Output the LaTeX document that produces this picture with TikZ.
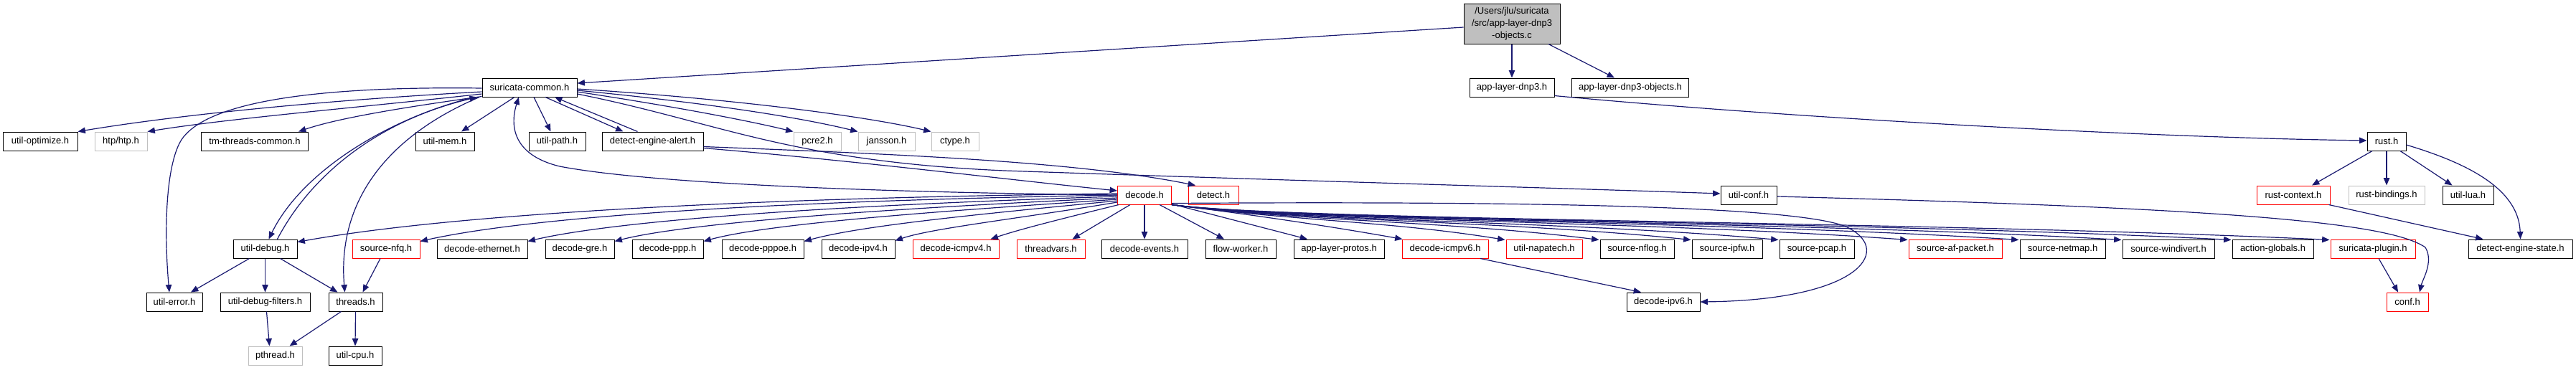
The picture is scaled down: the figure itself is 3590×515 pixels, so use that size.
\documentclass[tikz,border=0pt]{standalone}
\usepackage{fontspec}
\setmainfont{Liberation Sans}
\usetikzlibrary{arrows.meta,shadows}
\definecolor{edgec}{HTML}{191970}
\definecolor{lgray}{HTML}{BFBFBF}
\begin{document}
\begin{tikzpicture}[x=0.5pt,y=-0.5pt,
  base/.style={rectangle, inner sep=0pt, minimum height=13pt, font=\fontsize{6.5}{7.5}\selectfont, line width=0.5pt, fill=white},
  nb/.style={base, draw=black, drop shadow={shadow xshift=0.35pt, shadow yshift=-0.7pt, fill=black!65, opacity=1}},
  nr/.style={base, draw=red, drop shadow={shadow xshift=0.35pt, shadow yshift=-0.7pt, fill=red!55, opacity=1}},
  ng/.style={base, draw=lgray},
  e/.style={draw=edgec, line width=0.6pt, -{Triangle[length=5.2pt,width=4.2pt]}}]
\useasboundingbox (0,0) rectangle (3590,515);
% rank 0
\node[nb, fill=lgray, minimum width=67pt, minimum height=28pt, align=center, font=\fontsize{6.5}{8.5}\selectfont] (top) at (2107,33) {/Users/jlu/suricata\\/src/app-layer-dnp3\\-objects.c};
% rank 1
\node[nb, minimum width=66pt] (sc) at (738,122) {suricata-common.h};
\node[nb, minimum width=59pt] (dnp3) at (2107,122) {app-layer-dnp3.h};
\node[nb, minimum width=81.5pt] (dnp3o) at (2272,122) {app-layer-dnp3-objects.h};
% rank 2
\node[nb, minimum width=52pt] (uopt) at (56,197) {util-optimize.h};
\node[ng, minimum width=36.5pt] (htp) at (168.5,197) {htp/htp.h};
\node[nb, minimum width=74.5pt] (tmtc) at (355,197) {tm-threads-common.h};
\node[nb, minimum width=41pt] (umem) at (620,197) {util-mem.h};
\node[nb, minimum width=39.5pt] (upath) at (776.5,197) {util-path.h};
\node[nb, minimum width=70.5pt] (dea) at (909.5,197) {detect-engine-alert.h};
\node[ng, minimum width=33pt] (pcre) at (1139,197) {pcre2.h};
\node[ng, minimum width=39.5pt] (jans) at (1235.5,197) {jansson.h};
\node[ng, minimum width=33pt] (ctype) at (1331,197) {ctype.h};
\node[nb, minimum width=27pt] (rust) at (3326,197) {rust.h};
% rank 3
\node[nr, minimum width=37.5pt] (decode) at (1595,272) {decode.h};
\node[nr, minimum width=35pt] (detect) at (1691,272) {detect.h};
\node[nb, minimum width=39pt] (uconf) at (2437,272) {util-conf.h};
\node[nr, minimum width=51pt] (rctx) at (3196,272) {rust-context.h};
\node[ng, minimum width=53pt] (rbind) at (3326,272) {rust-bindings.h};
\node[nb, minimum width=35.5pt] (ulua) at (3439.5,272) {util-lua.h};
% rank 4
\node[nb, minimum width=44.5pt] (udebug) at (369.5,347) {util-debug.h};
\node[nr, minimum width=47pt] (nfq) at (538,347) {source-nfq.h};
\node[nb, minimum width=63pt] (deth) at (672,347) {decode-ethernet.h};
\node[nb, minimum width=48pt] (dgre) at (808,347) {decode-gre.h};
\node[nb, minimum width=49.5pt] (dppp) at (930.5,347) {decode-ppp.h};
\node[nb, minimum width=57pt] (dpppoe) at (1063,347) {decode-pppoe.h};
\node[nb, minimum width=51pt] (dipv4) at (1196,347) {decode-ipv4.h};
\node[nr, minimum width=60pt] (dicmp4) at (1332,347) {decode-icmpv4.h};
\node[nr, minimum width=47.5pt] (tvars) at (1464.5,347) {threadvars.h};
\node[nb, minimum width=60pt] (devents) at (1595,347) {decode-events.h};
\node[nb, minimum width=49pt] (fworker) at (1729,347) {flow-worker.h};
\node[nb, minimum width=63pt] (alprotos) at (1866,347) {app-layer-protos.h};
\node[nr, minimum width=60pt] (dicmp6) at (2014,347) {decode-icmpv6.h};
\node[nr, minimum width=53pt] (unapa) at (2152,347) {util-napatech.h};
\node[nb, minimum width=51.5pt] (nflog) at (2281.5,347) {source-nflog.h};
\node[nb, minimum width=49pt] (ipfw) at (2407,347) {source-ipfw.h};
\node[nb, minimum width=52pt] (pcap) at (2532,347) {source-pcap.h};
\node[nr, minimum width=65pt] (afp) at (2725,347) {source-af-packet.h};
\node[nb, minimum width=59.5pt] (netmap) at (2874.5,347) {source-netmap.h};
\node[nb, minimum width=64pt] (windiv) at (3022,347) {source-windivert.h};
\node[nb, minimum width=56.5pt] (actg) at (3167.5,347) {action-globals.h};
\node[nr, minimum width=59pt] (splug) at (3307,347) {suricata-plugin.h};
\node[nb, minimum width=72.5pt] (des) at (3512.5,347) {detect-engine-state.h};
% rank 5
\node[nb, minimum width=39pt] (uerr) at (243,421) {util-error.h};
\node[nb, minimum width=62.5pt] (udf) at (369.5,421) {util-debug-filters.h};
\node[nb, minimum width=37.5pt] (threads) at (495.5,421) {threads.h};
\node[nb, minimum width=51pt] (dipv6) at (2318,421) {decode-ipv6.h};
\node[nr, minimum width=29pt] (conf) at (3355,421) {conf.h};
% rank 6
\node[ng, minimum width=37.5pt] (pthread) at (383.5,496) {pthread.h};
\node[nb, minimum width=37pt] (ucpu) at (495,496) {util-cpu.h};

% edges from the file
\draw[e] ([shift={(0,5)}]top.west) -- ([shift={(0,-6)}]sc.east);
\draw[e] (top.south) -- (dnp3.north);
\draw[e] ([shift={(51,0)}]top.south) -- ([shift={(-22,0)}]dnp3o.north);
\draw[e] ([shift={(0,-2)}]dnp3.south east) .. controls (2500,165) and (3000,192) .. ([shift={(0,-1)}]rust.west);
% rust
\draw[e] ([shift={(-20,0)}]rust.south) -- ([shift={(26,0)}]rctx.north);
\draw[e] (rust.south) -- (rbind.north);
\draw[e] ([shift={(19,0)}]rust.south) -- ([shift={(-22,0)}]ulua.north);
\draw[e] ([shift={(0,5)}]rust.east) .. controls (3430,225) and (3510,260) .. (des.north);
\draw[e] ([shift={(-2,0)}]rctx.south east) -- ([shift={(-52,0)}]des.north);
% conf
\draw[e] ([shift={(0,2)}]uconf.east) .. controls (3100,290) and (3330,310) .. (3380,345) .. controls (3392,365) and (3376,390) .. ([shift={(17,0)}]conf.north);
\draw[e] ([shift={(8,0)}]splug.south) -- ([shift={(-13,0)}]conf.north);
% ipv6
\draw[e] ([shift={(49,0)}]dicmp6.south) -- ([shift={(-31,0)}]dipv6.north);
\draw[e] ([shift={(0,-2)}]decode.south east) .. controls (2200,280) and (2500,290) .. (2570,315) .. controls (2640,345) and (2600,418) .. (dipv6.east);
% left bottom cluster
\draw[e] ([shift={(-8,0)}]nfq.south) -- ([shift={(10,0)}]threads.north);
\draw[e] ([shift={(-22,0)}]udebug.south) -- ([shift={(23,0)}]uerr.north);
\draw[e] (udebug.south) -- (udf.north);
\draw[e] ([shift={(21,0)}]udebug.south) -- ([shift={(-25,0)}]threads.north);
\draw[e] ([shift={(2,0)}]udf.south) -- ([shift={(-8,0)}]pthread.north);
\draw[e] ([shift={(-20,0)}]threads.south) -- ([shift={(20,0)}]pthread.north);
\draw[e] (threads.south) -- (ucpu.north);
% suricata-common
\draw[e] ([shift={(0,1)}]sc.west) .. controls (450,120) and (280,140) .. (250,200) .. controls (230,240) and (229,330) .. ([shift={(-7,0)}]uerr.north);
\draw[e] ([shift={(0,6)}]sc.west) .. controls (450,140) and (250,160) .. (uopt.north east);
\draw[e] ([shift={(0,9)}]sc.west) .. controls (500,150) and (320,165) .. (htp.north east);
\draw[e] ([shift={(0,-1)}]sc.south west) .. controls (560,150) and (470,165) .. ([shift={(-14,0)}]tmtc.north east);
\draw[e] ([shift={(-21,0)}]sc.south) -- ([shift={(23,0)}]umem.north);
\draw[e] ([shift={(6,0)}]sc.south) -- ([shift={(-9,0)}]upath.north);
\draw[e] ([shift={(22,0)}]sc.south) -- ([shift={(-41,0)}]dea.north);
\draw[e] ([shift={(-21,0)}]dea.north) -- ([shift={(35,0)}]sc.south);
\draw[e] ([shift={(-77,0)}]sc.south) .. controls (540,165) and (420,240) .. ([shift={(5,0)}]udebug.north);
\draw[e] ([shift={(17,0)}]udebug.north) .. controls (430,250) and (520,170) .. ([shift={(-73,0)}]sc.south);
\draw[e] ([shift={(-70,0)}]sc.south) .. controls (540,190) and (470,280) .. ([shift={(-15,0)}]threads.north);
\draw[e] (decode.west) .. controls (1200,268) and (900,255) .. (780,232) .. controls (710,215) and (712,170) .. ([shift={(-15,0)}]sc.south);
\draw[e] ([shift={(0,-4)}]dea.south east) .. controls (1200,225) and (1400,250) .. ([shift={(0,-6)}]decode.west);
\draw[e] ([shift={(0,-6)}]dea.south east) .. controls (1250,215) and (1500,225) .. ([shift={(-25,0)}]detect.north);
\draw[e] ([shift={(0,6)}]sc.east) .. controls (950,150) and (1050,170) .. (pcre.north west);
\draw[e] ([shift={(0,4)}]sc.east) .. controls (1000,145) and (1120,165) .. (jans.north west);
\draw[e] ([shift={(0,2)}]sc.east) .. controls (1050,140) and (1220,165) .. (ctype.north west);
\draw[e] ([shift={(0,9)}]sc.east) .. controls (1000,170) and (1100,225) .. (1400,238) .. controls (1800,252) and (2200,263) .. ([shift={(0,-2)}]uconf.west);
% decode.h to the left
\draw[e] ([shift={(0,-2)}]decode.west) .. controls (1100,275) and (650,295) .. ([shift={(0,4)}]udebug.north east);
\draw[e] (decode.west) .. controls (1100,280) and (750,300) .. ([shift={(0,3)}]nfq.north east);
\draw[e] ([shift={(0,2)}]decode.west) .. controls (1200,285) and (870,305) .. ([shift={(0,3)}]deth.north east);
\draw[e] ([shift={(0,4)}]decode.west) .. controls (1250,290) and (960,310) .. ([shift={(0,3)}]dgre.north east);
\draw[e] ([shift={(0,6)}]decode.west) .. controls (1300,295) and (1070,312) .. ([shift={(0,3)}]dppp.north east);
\draw[e] ([shift={(0,8)}]decode.west) .. controls (1350,300) and (1200,315) .. ([shift={(0,3)}]dpppoe.north east);
\draw[e] ([shift={(0,10)}]decode.west) .. controls (1420,305) and (1300,318) .. ([shift={(0,2)}]dipv4.north east);
\draw[e] ([shift={(2,0)}]decode.south west) .. controls (1480,305) and (1420,320) .. ([shift={(-12,0)}]dicmp4.north east);
\draw[e] ([shift={(-20,0)}]decode.south) -- ([shift={(30,0)}]tvars.north);
\draw[e] (decode.south) -- (devents.north);
\draw[e] ([shift={(21,0)}]decode.south) -- ([shift={(-23,0)}]fworker.north);
\draw[e] ([shift={(0,-1)}]decode.south east) -- ([shift={(-44,0)}]alprotos.north);
\draw[e] (decode.south east) .. controls (1750,300) and (1850,315) .. ([shift={(1,0)}]dicmp6.north west);
% decode.h to the right
\draw[e] (decode.south east) .. controls (1800,308) and (1935,308) .. ([shift={(-1,1)}]unapa.north west);
\draw[e] (decode.south east) .. controls (1800,308) and (2019,308) .. ([shift={(-1,1)}]nflog.north west);
\draw[e] (decode.south east) .. controls (1800,308) and (2103,308) .. ([shift={(-1,1)}]ipfw.north west);
\draw[e] (decode.south east) .. controls (1800,308) and (2182,308) .. ([shift={(-1,1)}]pcap.north west);
\draw[e] (decode.south east) .. controls (1800,308) and (2295,308) .. ([shift={(-1,1)}]afp.north west);
\draw[e] (decode.south east) .. controls (1800,308) and (2399,308) .. ([shift={(-1,1)}]netmap.north west);
\draw[e] (decode.south east) .. controls (1800,308) and (2492,308) .. ([shift={(-1,1)}]windiv.north west);
\draw[e] (decode.south east) .. controls (1800,308) and (2591,308) .. ([shift={(-1,1)}]actg.north west);
\draw[e] (decode.south east) .. controls (1800,308) and (2680,308) .. ([shift={(-1,1)}]splug.north west);
\end{tikzpicture}
\end{document}
